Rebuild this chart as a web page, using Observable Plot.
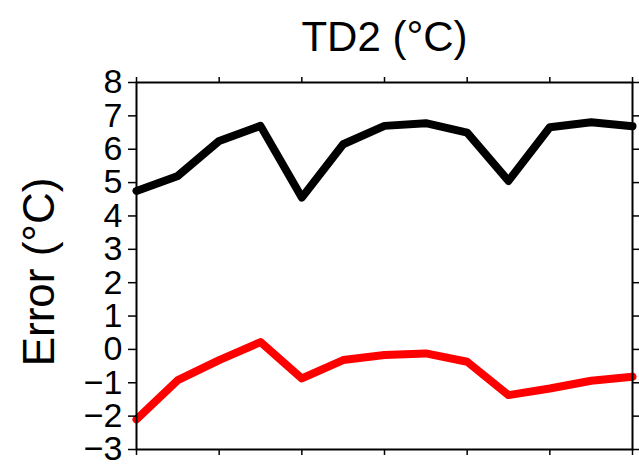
<!DOCTYPE html>
<html>
<head>
<meta charset="utf-8">
<script src="https://cdn.jsdelivr.net/npm/d3@7"></script>
<script src="https://cdn.jsdelivr.net/npm/@observablehq/plot@0.6"></script>
<style>
  html, body { margin: 0; padding: 0; background: #fff; }
</style>
</head>
<body>
<div id="chart"></div>
<script>
const titleText = "TD2 (°C)";
const yLabel = "Error (°C)";
const steps = [0, 1, 2, 3, 4, 5, 6, 7, 8, 9, 10, 11, 12];
const blackSeries = [4.75, 5.2, 6.25, 6.7, 4.55, 6.15, 6.7, 6.78, 6.5, 5.05, 6.66, 6.81, 6.69];
const redSeries = [-2.1, -0.92, -0.32, 0.22, -0.87, -0.32, -0.17, -0.12, -0.37, -1.37, -1.17, -0.94, -0.82];
const xTicks = [0, 2, 4, 6, 8, 10, 12];
const yTicks = [-3, -2, -1, 0, 1, 2, 3, 4, 5, 6, 7, 8];

const black = steps.map((s, i) => ({x: s, y: blackSeries[i]}));
const red = steps.map((s, i) => ({x: s, y: redSeries[i]}));

const chart = Plot.plot({
  width: 639,
  height: 466,
  marginLeft: 136,
  marginRight: 7,
  marginTop: 82,
  marginBottom: 17,
  style: {fontFamily: "Liberation Sans, Arial, sans-serif", background: "#fff", color: "#000"},
  x: {domain: [0, 12]},
  y: {domain: [-3, 8]},
  marks: [
    Plot.line(black, {x: "x", y: "y", stroke: "#000", strokeWidth: 8}),
    Plot.line(red, {x: "x", y: "y", stroke: "#ff0000", strokeWidth: 8}),
    Plot.frame({stroke: "#000", strokeWidth: 2}),
    Plot.axisY({anchor: "left", ticks: yTicks, tickSize: 8, tickPadding: 6, fontSize: 34, label: null, strokeWidth: 1.5}),
    Plot.axisY({anchor: "right", ticks: yTicks, tickSize: 6, tickFormat: () => "", label: null, strokeWidth: 1.5}),
    Plot.axisX({anchor: "top", ticks: xTicks, tickSize: 6, tickFormat: () => "", label: null, strokeWidth: 1.5}),
    Plot.axisX({anchor: "bottom", ticks: xTicks, tickSize: 6, tickFormat: () => "", label: null, strokeWidth: 1.5}),
    Plot.text([titleText], {text: d => d, frameAnchor: "top", dy: -45, fontSize: 42, lineAnchor: "middle", textAnchor: "middle", fill: "#000"}),
    Plot.text([yLabel], {text: d => d, frameAnchor: "left", rotate: -90, dx: -97, dy: 6, fontSize: 44, lineAnchor: "middle", textAnchor: "middle", fill: "#000"})
  ]
});
document.getElementById("chart").appendChild(chart);
</script>
</body>
</html>
